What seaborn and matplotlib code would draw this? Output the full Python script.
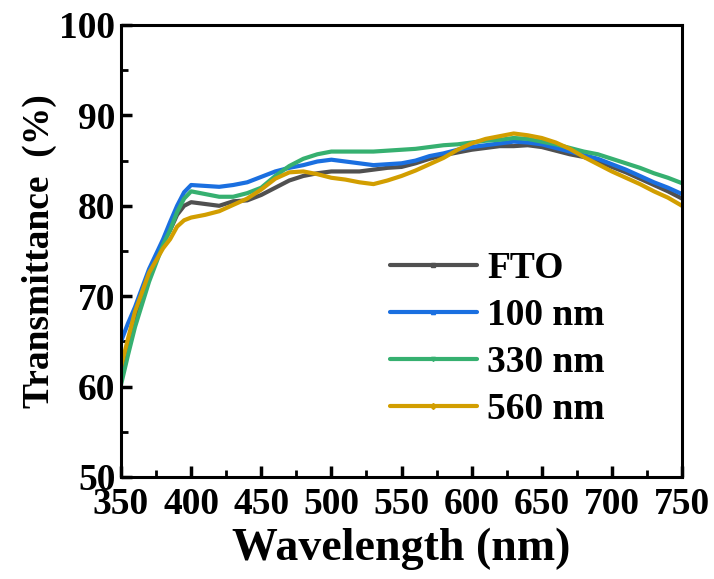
import numpy as np
import pandas as pd
import matplotlib
matplotlib.use("Agg")
import matplotlib.pyplot as plt
from matplotlib.lines import Line2D
from matplotlib.ticker import MultipleLocator
import seaborn as sns

# 波長 (nm)
wavelength = [350, 355, 360, 370, 380, 385, 390, 395, 400, 410, 420, 430, 440, 450,
              460, 470, 480, 490, 500, 510, 520, 530, 540, 550, 560, 570, 580, 590,
              600, 610, 620, 630, 640, 650, 660, 670, 680, 690, 700, 710, 720, 730,
              740, 750]

fto = [61.5, 64.5, 67.4, 72.0, 76.0, 77.3, 79.0, 80.0, 80.4, 80.2, 80.0, 80.5, 80.6, 81.2,
       82.0, 82.8, 83.3, 83.6, 83.8, 83.8, 83.8, 84.0, 84.2, 84.3, 84.7, 85.2, 85.6, 85.9,
       86.2, 86.4, 86.6, 86.6, 86.7, 86.5, 86.1, 85.7, 85.4, 84.95, 84.3, 83.7, 83.0, 82.3,
       81.6, 80.8]
nm100 = [65.0, 67.0, 68.8, 73.0, 76.3, 78.2, 80.0, 81.5, 82.3, 82.2, 82.1, 82.3, 82.6, 83.2,
         83.8, 84.2, 84.5, 84.9, 85.1, 84.9, 84.7, 84.5, 84.6, 84.7, 85.0, 85.5, 85.8, 86.2,
         86.5, 86.7, 86.9, 87.1, 87.0, 86.8, 86.4, 86.0, 85.6, 85.2, 84.6, 84.0, 83.3, 82.6,
         82.0, 81.3]
nm330 = [60.2, 63.5, 66.6, 71.6, 75.7, 77.3, 79.3, 80.8, 81.6, 81.3, 81.0, 81.0, 81.4, 82.0,
         83.3, 84.4, 85.2, 85.7, 86.0, 86.0, 86.0, 86.0, 86.1, 86.2, 86.3, 86.5, 86.7, 86.8,
         87.0, 87.2, 87.3, 87.5, 87.4, 87.1, 86.8, 86.4, 86.0, 85.7, 85.2, 84.7, 84.2, 83.6,
         83.1, 82.5]
nm560 = [62.2, 65.3, 68.3, 72.6, 75.3, 76.3, 77.7, 78.4, 78.7, 79.0, 79.4, 80.1, 80.8, 81.8,
         83.0, 83.7, 83.8, 83.5, 83.1, 82.9, 82.6, 82.4, 82.8, 83.3, 83.9, 84.6, 85.3, 86.2,
         86.9, 87.4, 87.7, 88.0, 87.8, 87.5, 87.0, 86.3, 85.4, 84.6, 83.8, 83.1, 82.4, 81.6,
         80.9, 80.0]

labels = ["FTO", "100 nm", "330 nm", "560 nm"]
colors = ["#505050", "#1a6fe0", "#36b070", "#d29e00"]
markers = ["s", "^", "v", "D"]

df = pd.DataFrame({"Wavelength": wavelength * 4,
                   "T": fto + nm100 + nm330 + nm560,
                   "Sample": sum([[l] * len(wavelength) for l in labels], [])})

sns.set_style("ticks")
plt.rcParams["font.family"] = ["Liberation Serif", "DejaVu Serif"]
plt.rcParams["font.weight"] = "bold"
plt.rcParams["text.color"] = "black"
plt.rcParams["axes.labelcolor"] = "black"
plt.rcParams["axes.edgecolor"] = "black"
plt.rcParams["xtick.color"] = "black"
plt.rcParams["ytick.color"] = "black"

fig = plt.figure(figsize=(7.14, 5.79), dpi=100)
ax = fig.add_axes([121 / 714, 1 - 477 / 579, 561 / 714, 452 / 579])

sns.lineplot(data=df, x="Wavelength", y="T", hue="Sample", palette=colors,
             linewidth=3, ax=ax, legend=False)

ax.set_xlim(350, 750)
ax.set_ylim(50, 100)
ax.xaxis.set_major_locator(MultipleLocator(50))
ax.xaxis.set_minor_locator(MultipleLocator(25))
ax.yaxis.set_major_locator(MultipleLocator(10))
ax.yaxis.set_minor_locator(MultipleLocator(5))
ax.tick_params(which="major", direction="in", length=8, width=2.5, labelsize=27, pad=4,
               top=False, right=False, colors="black")
ax.tick_params(axis="x", which="major", pad=7)
ax.tick_params(which="minor", direction="in", length=5, width=2, top=False, right=False,
               colors="black")
for lab in ax.get_xticklabels() + ax.get_yticklabels():
    lab.set_fontweight("bold")
for sp in ax.spines.values():
    sp.set_linewidth(2.2)
    sp.set_color("black")
    sp.set_visible(True)

ax.set_xlabel("Wavelength (nm)", fontsize=33, fontweight="bold", labelpad=4)
ax.set_ylabel("Transmittance  (%)", fontsize=27, fontweight="bold", labelpad=2)

handles = [Line2D([0, 0.5, 1], [0, 0, 0], color=c, lw=3, marker=m, markersize=3,
                  markevery=[1]) for c, m in zip(colors, markers)]
ax.legend(handles, labels, loc="upper left", bbox_to_anchor=(0.4795, 0.499),
          frameon=False, borderpad=0, borderaxespad=0, handlelength=2.32,
          handletextpad=0.27, labelspacing=0.32,
          prop={"size": 27, "weight": "bold", "family": "Liberation Serif"})

fig.savefig("out.png", dpi=100)
